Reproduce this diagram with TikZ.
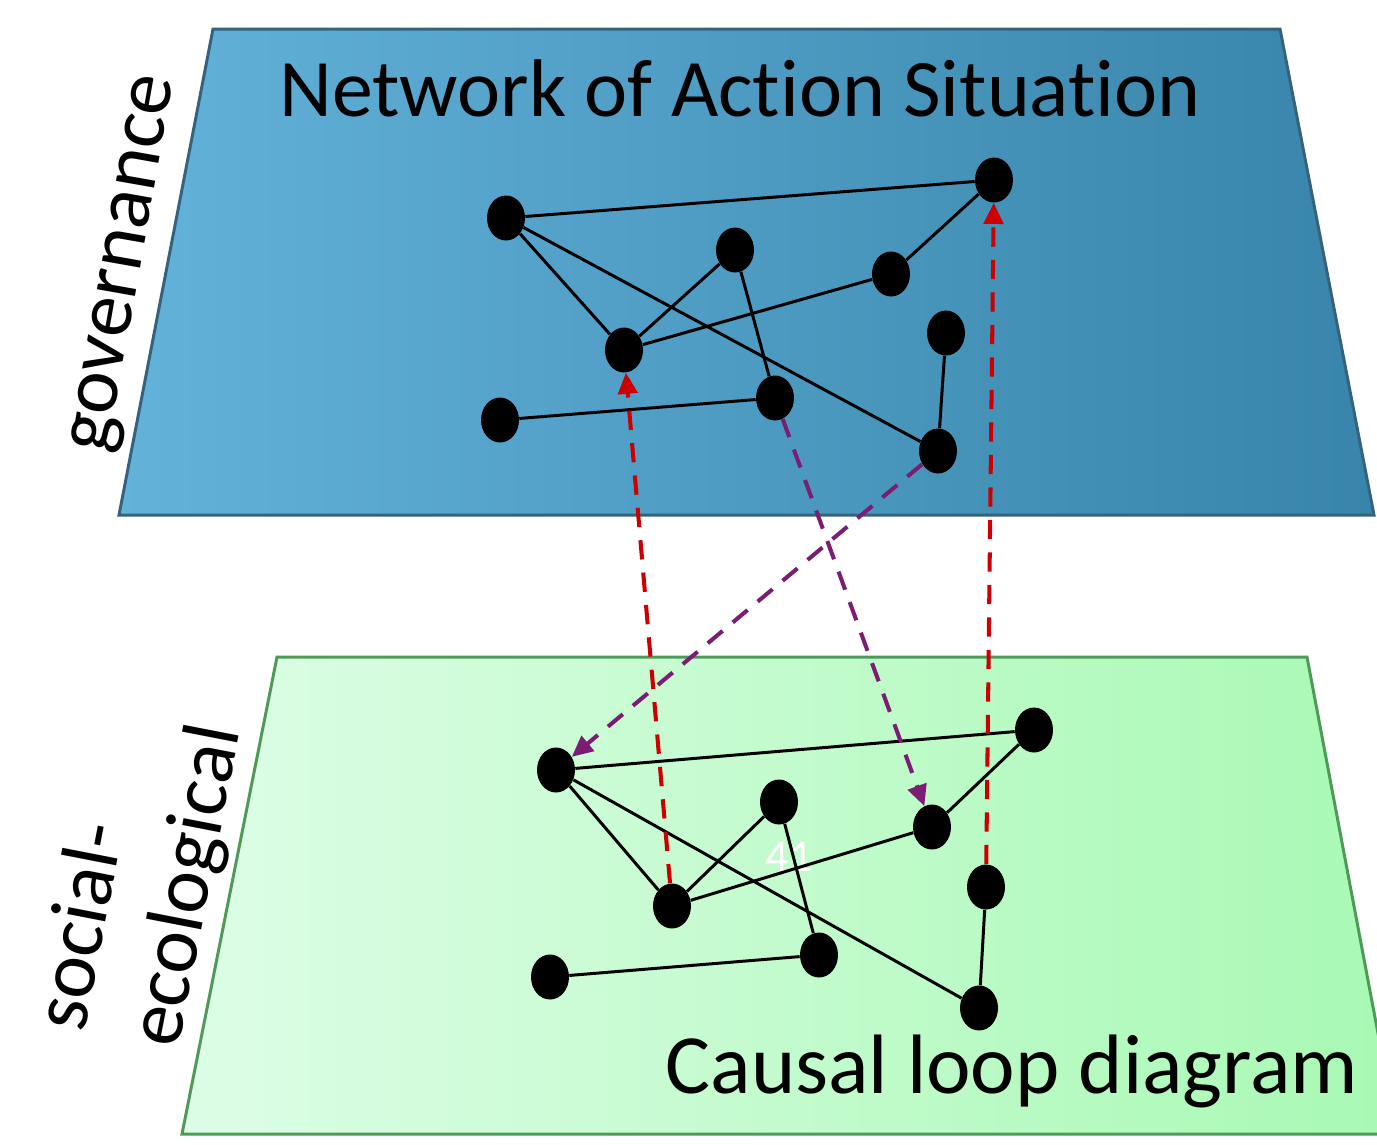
\documentclass[tikz,border=0pt]{standalone}
\usepackage{fontspec}
\setmainfont{Carlito}[Ligatures={NoCommon,NoContextual}]
\usetikzlibrary{shapes.geometric,arrows.meta}
\definecolor{blueL}{HTML}{63B2DA}
\definecolor{blueR}{HTML}{3884AA}
\definecolor{blueB}{HTML}{36637C}
\definecolor{greenL}{HTML}{DDFDE6}
\definecolor{greenR}{HTML}{A8F9B4}
\definecolor{greenB}{HTML}{4E9A58}
\definecolor{myred}{HTML}{CC0000}
\definecolor{mypurple}{HTML}{7B1E73}
\begin{document}
\begin{tikzpicture}[x=0.02cm,y=-0.02cm,
  dot/.style={ellipse,fill=black,minimum width=0.76cm,minimum height=0.9cm,inner sep=0pt},
  edge/.style={line width=1.7pt,black},
  bigtext/.style={font=\fontsize{46}{55}\selectfont,inner sep=0pt},
  reddash/.style={draw=myred,line width=2.3pt,dash pattern=on 11pt off 7.5pt,-{Triangle[length=12pt,width=11pt]}},
  purpledash/.style={draw=mypurple,line width=2.3pt,dash pattern=on 11pt off 7.5pt,-{Triangle[length=12pt,width=11pt]}}]
\useasboundingbox (0,0) rectangle (1377,1144);
\clip (0,0) rectangle (1377,1144);
% planes
\path[draw=blueB,line width=1.7pt,left color=blueL,right color=blueR]
  (213,29) -- (1280,29) -- (1374,515) -- (119,515) -- cycle;
\path[draw=greenB,line width=1.7pt,left color=greenL,right color=greenR]
  (277,657) -- (1307,657) -- (1397,1134) -- (182,1134) -- cycle;
% texts
\node[bigtext,font=\fontsize{46.5}{55}\selectfont,anchor=base] (title) at (740,116) {Network of Action Situation};
\node[bigtext,font=\fontsize{48}{58}\selectfont,anchor=base] (cld) at (1012,1093) {Causal loop diagram};
\node[bigtext,rotate=80,anchor=base west] (gov) at (107,455) {governance};
\node[bigtext,rotate=79,anchor=base west] (soc) at (84,1034) {social-};
\node[bigtext,rotate=79,anchor=base west] (eco) at (178,1050) {ecological};
\node[font=\fontsize{26}{30}\selectfont,text=white,inner sep=0pt] (num) at (789,857) {41};
% top network nodes
\node[dot] (T1) at (506,218) {};
\node[dot] (T2) at (735,250) {};
\node[dot] (T3) at (624,350) {};
\node[dot] (T4) at (500,420) {};
\node[dot] (T5) at (775,398) {};
\node[dot] (T6) at (891,274) {};
\node[dot] (T7) at (994,180) {};
\node[dot] (T8) at (946,333) {};
\node[dot] (T9) at (938,451) {};
% bottom network nodes
\node[dot] (B1) at (556,770) {};
\node[dot] (B2) at (779,802) {};
\node[dot] (B3) at (672,906) {};
\node[dot] (B4) at (550,977) {};
\node[dot] (B5) at (819,955) {};
\node[dot] (B6) at (932,827) {};
\node[dot] (B7) at (1034,730) {};
\node[dot] (B8) at (986,887) {};
\node[dot] (B9) at (979,1008) {};
% top edges
\draw[edge] (T1) -- (T7);
\draw[edge] (T1) -- (T3);
\draw[edge] (T1) -- (T9);
\draw[edge] (T3) -- (T2);
\draw[edge] (T3) -- (T6);
\draw[edge] (T6) -- (T7);
\draw[edge] (T2) -- (T5);
\draw[edge] (T4) -- (T5);
\draw[edge] (T8) -- (T9);
% bottom edges
\draw[edge] (B1) -- (B7);
\draw[edge] (B1) -- (B3);
\draw[edge] (B1) -- (B9);
\draw[edge] (B3) -- (B2);
\draw[edge] (B3) -- (B6);
\draw[edge] (B6) -- (B7);
\draw[edge] (B2) -- (B5);
\draw[edge] (B4) -- (B5);
\draw[edge] (B8) -- (B9);
% inter-layer links
\draw[reddash] (B3) -- (T3);
\draw[reddash] (B8) -- (T7);
\draw[purpledash] (T5) -- (B6);
\draw[purpledash] (T9) -- (B1);
\end{tikzpicture}
\end{document}
